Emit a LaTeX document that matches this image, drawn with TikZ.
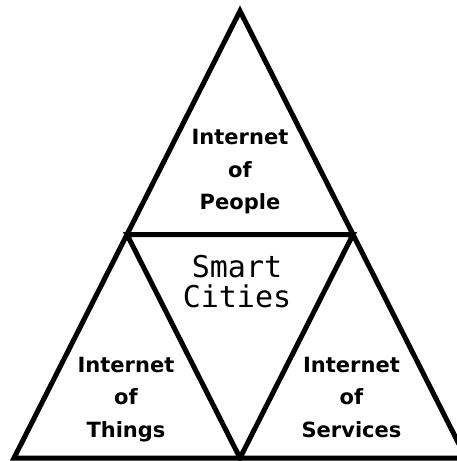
\documentclass[tikz,border=0pt]{standalone}
\usepackage{fontspec}
\setsansfont{DejaVu Sans}
\setmonofont{DejaVu Sans Mono}
\usetikzlibrary{calc}

\begin{document}
\begin{tikzpicture}[x=1pt,y=-1pt,line width=5pt,
  iot/.style={align=center,inner sep=0pt,
    font=\sffamily\bfseries\fontsize{21}{32.5}\selectfont},
  hub/.style={align=center,inner sep=0pt,
    font=\ttfamily\fontsize{30}{30}\selectfont}]
\useasboundingbox (0,0) rectangle (457,461);
\coordinate (top) at (240,11);
\coordinate (left) at (14,458);
\coordinate (right) at (466,458);
\coordinate (midl) at ($(top)!.5!(left)$);
\coordinate (midr) at ($(top)!.5!(right)$);
\coordinate (midb) at ($(left)!.5!(right)$);
\draw (top) -- (left) -- (right) -- cycle;
\draw (midl) -- (midr) -- (midb) -- cycle;
\foreach \t/\x/\y in {
  People/240/172,
  Things/126/399.5,
  Services/351.5/397
}
\node[iot] (\t) at (\x,\y) {Internet\\of\\\t};
\node[hub] (cities) at (237,282) {Smart\\Cities};
\end{tikzpicture}
\end{document}
